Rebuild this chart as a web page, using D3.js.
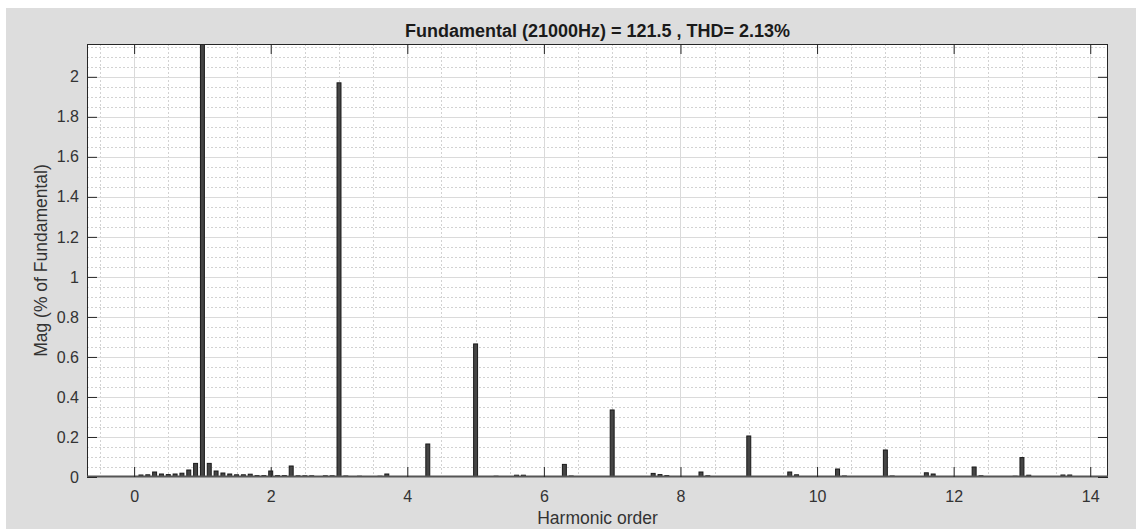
<!DOCTYPE html>
<html>
<head>
<meta charset="utf-8">
<script src="https://cdn.jsdelivr.net/npm/d3@7/dist/d3.min.js"></script>
<style>
  html, body { margin: 0; padding: 0; background: #ffffff; }
  svg { display: block; }
  text { font-family: "Liberation Sans", Arial, Helvetica, sans-serif; }
</style>
</head>
<body>
<svg id="chart" width="1136" height="529"></svg>
<script>
// ---- data ----
const harmonicOrders = [
  0.1, 0.2, 0.3, 0.4, 0.5, 0.6, 0.7, 0.8, 0.9, 1.0,
  1.1, 1.2, 1.3, 1.4, 1.5, 1.6, 1.7, 1.8, 1.9, 2.0,
  2.1, 2.2, 2.3, 2.4, 2.5, 2.6, 2.8, 2.9, 3.0, 3.1,
  3.3, 3.6, 3.7, 4.3, 5.0, 5.3, 5.6, 5.7, 6.3, 6.4,
  7.0, 7.6, 7.7, 7.8, 8.3, 8.4, 9.0, 9.6, 9.7, 10.3,
  10.4, 11.0, 11.1, 11.6, 11.7, 12.3, 12.4, 12.9, 13.0, 13.1,
  13.6, 13.7
];
const magnitudes = [
  0.010, 0.011, 0.025, 0.015, 0.012, 0.015, 0.019, 0.035, 0.068, 100,
  0.068, 0.030, 0.020, 0.015, 0.011, 0.011, 0.014, 0.007, 0.007, 0.030,
  0.007, 0.007, 0.055, 0.006, 0.006, 0.006, 0.006, 0.006, 1.97, 0.005,
  0.004, 0.004, 0.015, 0.165, 0.665, 0.004, 0.009, 0.009, 0.063, 0.005,
  0.335, 0.018, 0.012, 0.007, 0.025, 0.006, 0.205, 0.025, 0.011, 0.040,
  0.005, 0.135, 0.005, 0.021, 0.015, 0.050, 0.006, 0.004, 0.097, 0.009,
  0.010, 0.010
];
const xTickValues = [0, 2, 4, 6, 8, 10, 12, 14];
const yTickValues = [0, 0.2, 0.4, 0.6, 0.8, 1, 1.2, 1.4, 1.6, 1.8, 2];
const titleText = "Fundamental (21000Hz) = 121.5 , THD= 2.13%";
const xLabelText = "Harmonic order";
const yLabelText = "Mag (% of Fundamental)";

const bars = harmonicOrders.map((h, i) => ({ h, v: magnitudes[i] }));

// ---- layout ----
const W = 1136, H = 529;
const plot = { left: 87, top: 44, right: 1108, bottom: 477 };
const svg = d3.select("#chart");

svg.append("rect").attr("x", 6).attr("y", 8).attr("width", W - 6).attr("height", H - 8)
  .attr("fill", "#dddddd");

const x = d3.scaleLinear().domain([-0.69, 14.26]).range([plot.left, plot.right]);
const y = d3.scaleLinear().domain([0, 2.164]).range([plot.bottom, plot.top]);

svg.append("rect").attr("x", plot.left).attr("y", plot.top)
  .attr("width", plot.right - plot.left).attr("height", plot.bottom - plot.top)
  .attr("fill", "#ffffff");

svg.append("clipPath").attr("id", "clip").append("rect")
  .attr("x", plot.left).attr("y", plot.top)
  .attr("width", plot.right - plot.left).attr("height", plot.bottom - plot.top);

const g = svg.append("g").attr("clip-path", "url(#clip)");

// minor grid
const xMinor = d3.range(-0.5, 14.26, 0.5).filter(v => Math.abs(v / 2 - Math.round(v / 2)) > 1e-6);
const yMinor = d3.range(0.05, 2.164, 0.05).filter(v => Math.abs(v / 0.2 - Math.round(v / 0.2)) > 1e-6);
g.selectAll(".xminor").data(xMinor).join("line")
  .attr("x1", d => Math.round(x(d)) + 0.5).attr("x2", d => Math.round(x(d)) + 0.5)
  .attr("y1", plot.top).attr("y2", plot.bottom)
  .attr("stroke", "#d2d2d2").attr("stroke-width", 1).attr("stroke-dasharray", "2,2");
g.selectAll(".yminor").data(yMinor).join("line")
  .attr("y1", d => Math.round(y(d)) + 0.5).attr("y2", d => Math.round(y(d)) + 0.5)
  .attr("x1", plot.left).attr("x2", plot.right)
  .attr("stroke", "#d2d2d2").attr("stroke-width", 1).attr("stroke-dasharray", "2,2");
// major grid
g.selectAll(".xmajor").data(xTickValues).join("line")
  .attr("x1", d => Math.round(x(d)) + 0.5).attr("x2", d => Math.round(x(d)) + 0.5)
  .attr("y1", plot.top).attr("y2", plot.bottom)
  .attr("stroke", "#dadada").attr("stroke-width", 1);
g.selectAll(".ymajor").data(yTickValues).join("line")
  .attr("y1", d => Math.round(y(d)) + 0.5).attr("y2", d => Math.round(y(d)) + 0.5)
  .attr("x1", plot.left).attr("x2", plot.right)
  .attr("stroke", "#dadada").attr("stroke-width", 1);

// bars
const barW = 0.058;
g.selectAll(".bar").data(bars).join("rect")
  .attr("x", d => x(d.h - barW / 2))
  .attr("width", x(barW) - x(0))
  .attr("y", d => y(Math.min(d.v, 2.3)))
  .attr("height", d => y(0) - y(Math.min(d.v, 2.3)))
  .attr("fill", "#454545").attr("stroke", "#1a1a1a").attr("stroke-width", 1);

// axes (ticks inward, box)
const axColor = "#262626";
const tickLen = 10;
const axG = svg.append("g");
axG.append("rect").attr("x", plot.left + 0.5).attr("y", plot.top + 0.5)
  .attr("width", plot.right - plot.left - 1).attr("height", plot.bottom - plot.top - 1)
  .attr("fill", "none").attr("stroke", axColor).attr("stroke-width", 1);
axG.append("line").attr("x1", plot.left).attr("x2", plot.right)
  .attr("y1", plot.bottom - 0.5).attr("y2", plot.bottom - 0.5)
  .attr("stroke", "#555").attr("stroke-width", 2);

const xAxisB = d3.axisBottom(x).tickValues(xTickValues).tickSize(-tickLen).tickPadding(14)
  .tickFormat(d3.format("d"));
const xAxisT = d3.axisTop(x).tickValues(xTickValues).tickSize(-tickLen).tickFormat("");
const yAxisL = d3.axisLeft(y).tickValues(yTickValues).tickSize(-tickLen).tickPadding(8)
  .tickFormat(d => String(+d.toFixed(1)));
const yAxisR = d3.axisRight(y).tickValues(yTickValues).tickSize(-tickLen).tickFormat("");

function styleAxis(sel) {
  sel.select(".domain").remove();
  sel.selectAll(".tick line").attr("stroke", axColor).attr("stroke-width", 1);
  sel.selectAll(".tick text").attr("fill", "#333").style("font-size", "16px")
    .style("font-family", '"Liberation Sans", Arial, sans-serif');
}
axG.append("g").attr("transform", `translate(0,${plot.bottom})`).call(xAxisB).call(styleAxis);
axG.append("g").attr("transform", `translate(0,${plot.top})`).call(xAxisT).call(styleAxis);
axG.append("g").attr("transform", `translate(${plot.left},0)`).call(yAxisL).call(styleAxis);
axG.append("g").attr("transform", `translate(${plot.right},0)`).call(yAxisR).call(styleAxis);

// labels
svg.append("text").attr("x", (plot.left + plot.right) / 2).attr("y", 37)
  .attr("text-anchor", "middle").attr("font-weight", "bold").attr("fill", "#1a1a1a")
  .style("font-size", "18px").text(titleText);
svg.append("text").attr("x", (plot.left + plot.right) / 2).attr("y", 524)
  .attr("text-anchor", "middle").attr("fill", "#333").style("font-size", "17.5px")
  .text(xLabelText);
svg.append("text").attr("transform", `translate(47,${(plot.top + plot.bottom) / 2}) rotate(-90)`)
  .attr("text-anchor", "middle").attr("fill", "#333").style("font-size", "17.5px")
  .text(yLabelText);
</script>
</body>
</html>
